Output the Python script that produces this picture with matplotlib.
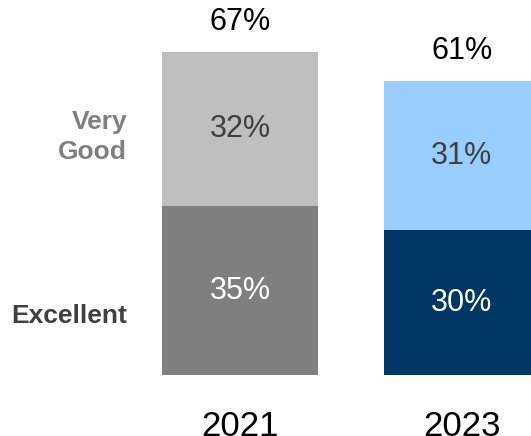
import matplotlib.pyplot as plt

plt.rcParams['font.family'] = ['Liberation Sans', 'DejaVu Sans']

years = ['2021', '2023']
excellent = [35, 30]
very_good = [32, 31]
totals = [67, 61]

bottom_colors = ['#7f7f7f', '#003764']
top_colors = ['#bfbfbf', '#99ccff']

fig = plt.figure(figsize=(5.31, 4.36), dpi=100)
ax = fig.add_axes([0, 61 / 436, 1, 375 / 436])
ax.set_xlim(-1.081, 1.311)
ax.set_ylim(0, 77.8)
ax.axis('off')

x = [0, 1]
w = 0.703
ax.bar(x, excellent, width=w, color=bottom_colors)
ax.bar(x, very_good, width=w, bottom=excellent, color=top_colors)

for i in x:
    ax.text(i, excellent[i] / 2, f'{excellent[i]}%', ha='center', va='center',
            fontsize=22, color='white')
    ax.text(i, excellent[i] + very_good[i] / 2, f'{very_good[i]}%', ha='center',
            va='center', fontsize=22, color='#404040')
    ax.text(i, totals[i] + 6.2, f'{totals[i]}%', ha='center', va='center',
            fontsize=22, color='black')
    ax.text(i, -10.7, years[i], ha='center', va='center', fontsize=25,
            color='black', clip_on=False)

# series labels on the left of the first bar
ax.text(-0.509, excellent[0] + very_good[0] / 2 - 1.6, 'Very\nGood', ha='right',
        va='center', fontsize=19, fontweight='bold', color='#808080',
        linespacing=1.3)
ax.text(-0.509, 12.3, 'Excellent', ha='right', va='center', fontsize=19,
        fontweight='bold', color='#404040')

fig.savefig('out.png', dpi=100)
